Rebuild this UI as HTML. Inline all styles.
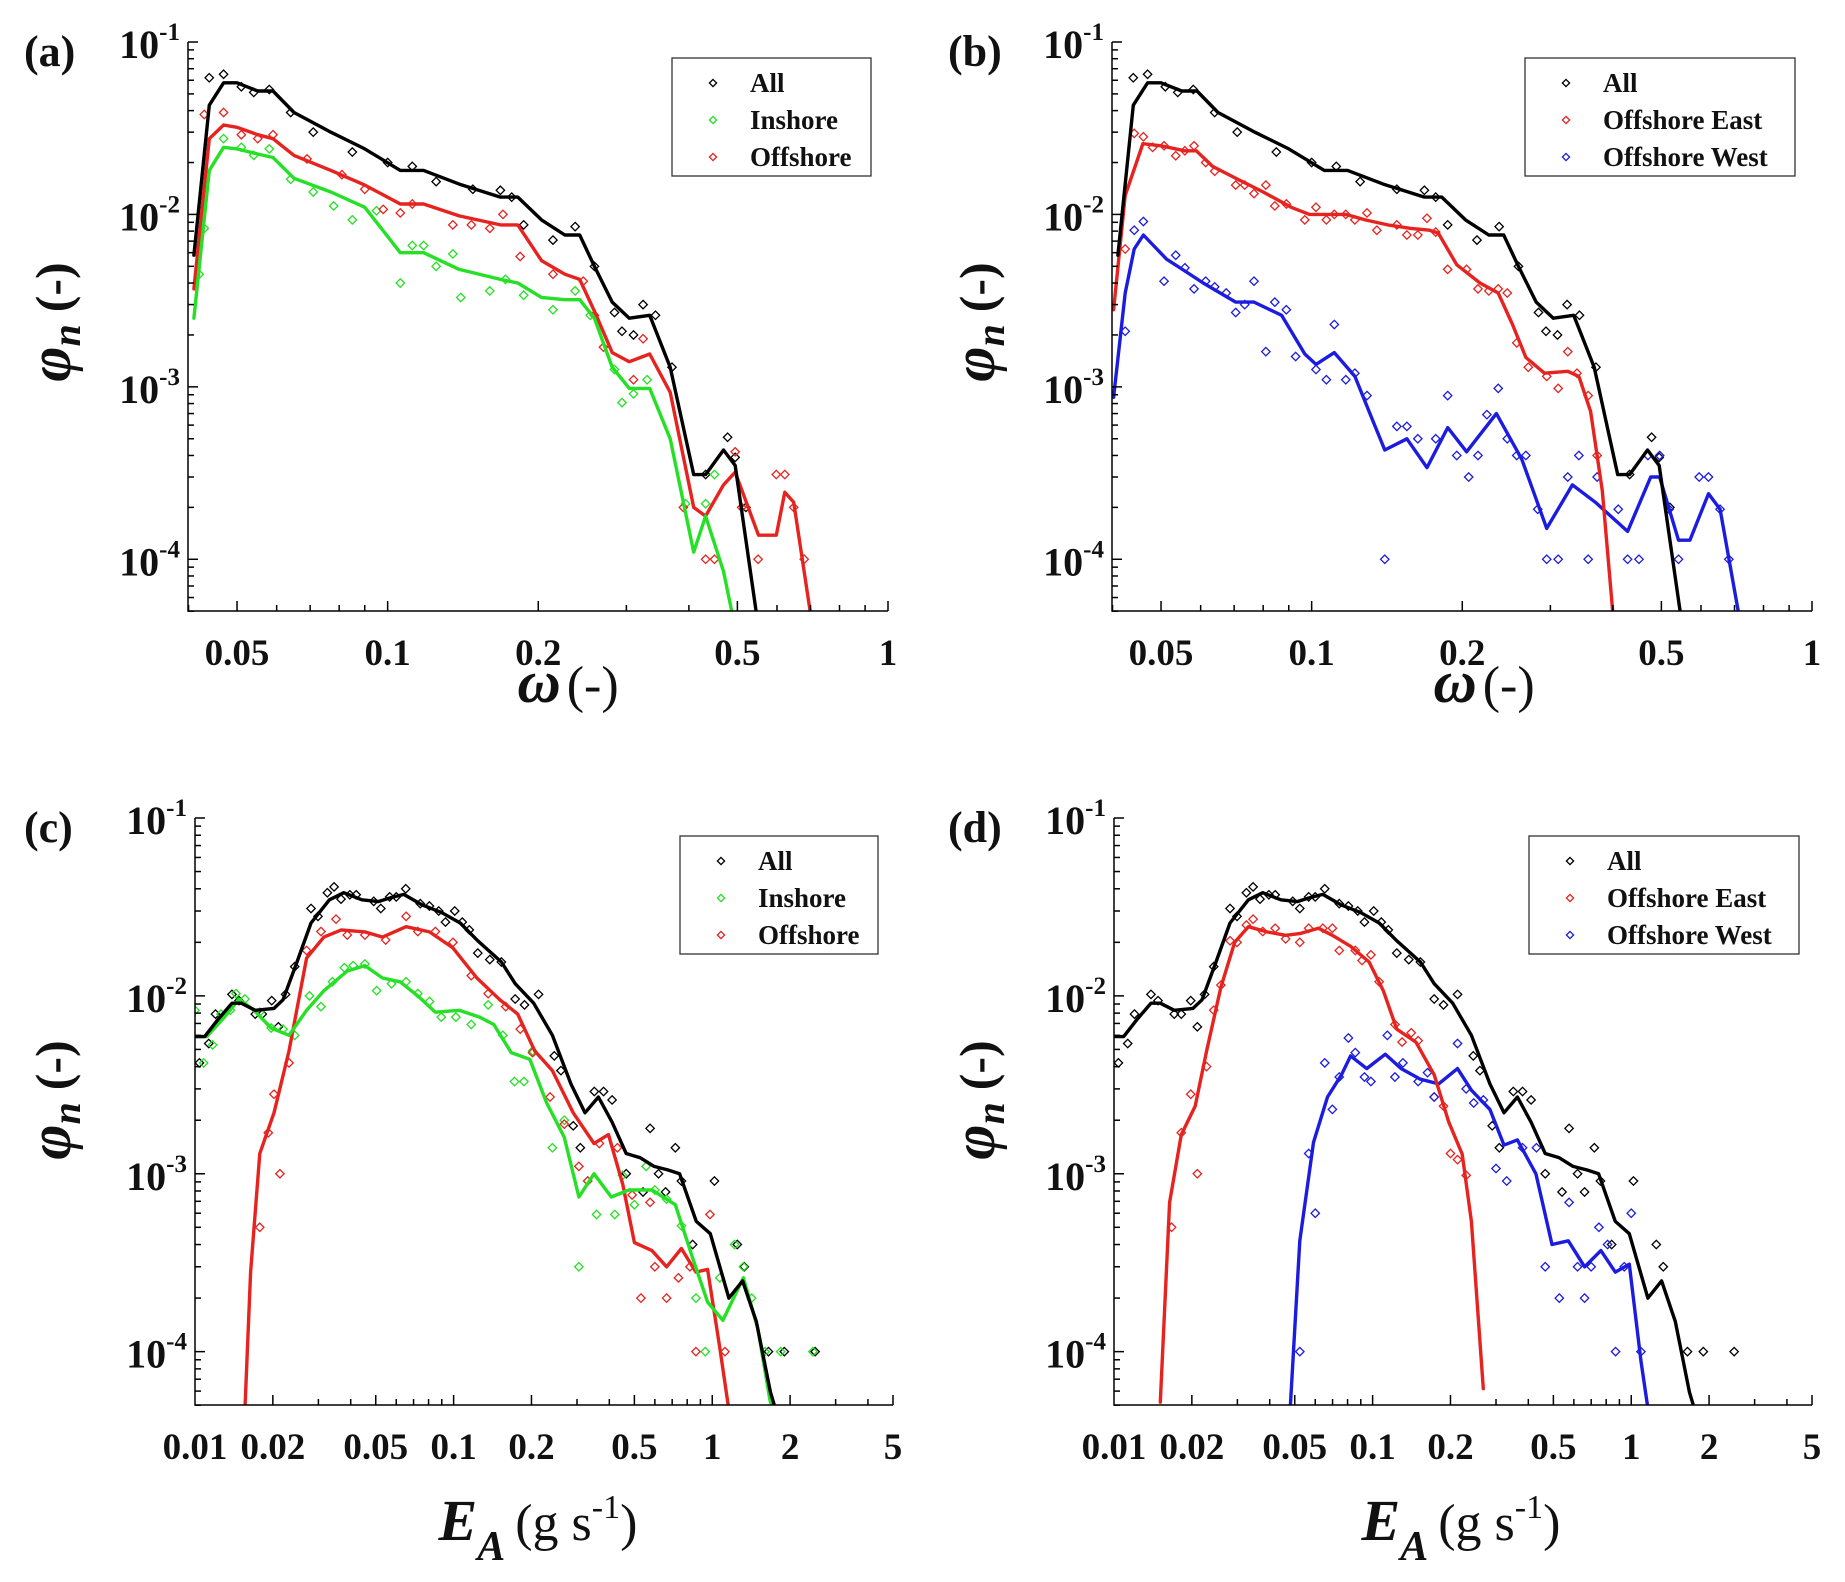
<!DOCTYPE html>
<html><head><meta charset="utf-8">
<style>
html,body{margin:0;padding:0;background:#fff;}
svg{display:block;font-family:"Liberation Serif",serif;}
</style></head>
<body>
<svg id="fig" width="1845" height="1582" viewBox="0 0 1845 1582" xmlns="http://www.w3.org/2000/svg">
<rect x="0" y="0" width="1845" height="1582" fill="#fff"/>
</svg>
<script>
// ---------- DATA: "All" (shared by all panels of the same x-variable) ----------
const omegaAllX = [0.041,0.044,0.047,0.05,0.055,0.059,0.065,0.077,0.09,0.106,0.118,0.139,0.168,0.182,0.203,0.226,0.242,0.259,0.281,0.304,0.334,0.367,0.409,0.432,0.469,0.495,0.551];
const omegaAllY = [0.0058,0.043,0.058,0.058,0.052,0.052,0.039,0.030,0.024,0.018,0.018,0.015,0.0126,0.0126,0.0093,0.0076,0.0076,0.0050,0.0031,0.0025,0.0026,0.0013,0.00031,0.00031,0.00043,0.00035,0.00004];
const omegaAllPtsX = [0.044,0.047,0.051,0.054,0.058,0.064,0.071,0.085,0.1,0.112,0.125,0.148,0.168,0.177,0.187,0.214,0.237,0.259,0.284,0.294,0.31,0.324,0.343,0.37,0.432,0.478,0.495,0.52];
const omegaAllPtsY = [0.062,0.065,0.055,0.051,0.053,0.039,0.030,0.023,0.020,0.019,0.0155,0.014,0.0138,0.0126,0.0087,0.0071,0.0085,0.005,0.0027,0.0021,0.002,0.003,0.0026,0.0013,0.00031,0.00051,0.00039,0.0002];
// panel (a)
const inshoreAX = [0.041,0.044,0.047,0.05,0.055,0.059,0.065,0.077,0.09,0.106,0.118,0.139,0.168,0.182,0.203,0.226,0.242,0.259,0.281,0.304,0.334,0.367,0.409,0.432,0.469,0.495];
const inshoreAY = [0.0025,0.018,0.0245,0.024,0.0224,0.0214,0.0162,0.0135,0.011,0.006,0.006,0.0048,0.0042,0.004,0.0033,0.0032,0.0032,0.0025,0.0013,0.00098,0.00098,0.0005,0.00011,0.000178,0.000085,0.00004];
const inshoreAPtsX = [0.042,0.043,0.047,0.051,0.054,0.058,0.064,0.071,0.078,0.085,0.095,0.106,0.112,0.118,0.125,0.135,0.14,0.16,0.172,0.187,0.214,0.237,0.254,0.284,0.294,0.31,0.33,0.394,0.432,0.45];
const inshoreAPtsY = [0.0045,0.0083,0.0275,0.0245,0.022,0.024,0.016,0.0135,0.0112,0.0093,0.0105,0.004,0.0066,0.0066,0.005,0.0059,0.0033,0.0036,0.0042,0.0034,0.0028,0.0036,0.0026,0.00126,0.00081,0.00091,0.0011,0.00021,0.00021,0.00031];
const offshoreAX = [0.041,0.044,0.047,0.05,0.055,0.059,0.065,0.077,0.09,0.106,0.118,0.139,0.168,0.182,0.203,0.226,0.242,0.259,0.281,0.304,0.334,0.367,0.409,0.432,0.469,0.495,0.551,0.598,0.622,0.648,0.703];
const offshoreAY = [0.0037,0.0275,0.033,0.032,0.029,0.0275,0.022,0.018,0.0148,0.0115,0.0115,0.0098,0.0087,0.0087,0.0054,0.0045,0.0042,0.00275,0.00158,0.0014,0.00155,0.00093,0.0002,0.000178,0.00027,0.00032,0.000138,0.000138,0.000245,0.000214,0.0000447];
const offshoreAPtsX = [0.043,0.047,0.051,0.055,0.059,0.069,0.081,0.09,0.098,0.106,0.112,0.135,0.147,0.16,0.17,0.184,0.214,0.246,0.259,0.27,0.31,0.324,0.39,0.432,0.45,0.495,0.51,0.55,0.598,0.622,0.648,0.68];
const offshoreAPtsY = [0.038,0.039,0.029,0.0275,0.029,0.021,0.017,0.014,0.0107,0.0102,0.0115,0.0087,0.0087,0.0083,0.010,0.0057,0.0045,0.0041,0.0026,0.0017,0.0011,0.0019,0.0002,0.0001,0.0001,0.00042,0.0002,0.0001,0.00031,0.00031,0.0002,0.0001];
// panel (b)
const eastBX = [0.0402,0.0424,0.046,0.05,0.0558,0.0588,0.0634,0.0705,0.080,0.091,0.099,0.117,0.128,0.142,0.158,0.172,0.179,0.195,0.217,0.236,0.252,0.268,0.292,0.325,0.342,0.361,0.381,0.401];
const eastBY = [0.0028,0.0129,0.0257,0.025,0.0234,0.0234,0.019,0.0162,0.0135,0.011,0.010,0.010,0.0093,0.0087,0.0083,0.0081,0.0078,0.0051,0.004,0.0035,0.0023,0.00148,0.0012,0.00123,0.00115,0.00072,0.00025,0.0000447];
const eastBPtsX = [0.0424,0.0442,0.0461,0.0481,0.0507,0.0535,0.0558,0.0582,0.0614,0.064,0.0705,0.0735,0.0767,0.081,0.0844,0.089,0.0969,0.102,0.107,0.111,0.117,0.122,0.129,0.135,0.148,0.155,0.163,0.170,0.177,0.187,0.204,0.215,0.226,0.236,0.246,0.257,0.271,0.295,0.311,0.325,0.339,0.357,0.372];
const eastBPtsY = [0.0063,0.0295,0.0282,0.0245,0.025,0.0219,0.0234,0.025,0.02,0.0178,0.0148,0.0148,0.0132,0.0148,0.0112,0.0115,0.0093,0.011,0.0093,0.01,0.01,0.0093,0.0102,0.0081,0.0087,0.0076,0.0076,0.0095,0.0079,0.0048,0.0048,0.0037,0.0036,0.0037,0.0035,0.0018,0.0013,0.00115,0.00098,0.0016,0.0012,0.00089,0.0004];
const westBX = [0.0402,0.0424,0.0442,0.0461,0.0513,0.0558,0.0607,0.0705,0.0767,0.0871,0.0969,0.102,0.111,0.122,0.133,0.140,0.155,0.170,0.187,0.204,0.234,0.263,0.295,0.332,0.369,0.428,0.476,0.496,0.541,0.570,0.621,0.655,0.713];
const westBY = [0.00087,0.0035,0.0063,0.0076,0.0055,0.0047,0.004,0.0031,0.0031,0.0026,0.00155,0.00135,0.00158,0.00115,0.00062,0.00043,0.0005,0.00034,0.00058,0.00042,0.0007,0.00038,0.000151,0.00027,0.000214,0.000145,0.0003,0.0003,0.000129,0.000129,0.00024,0.000195,0.000049];
const westBPtsX = [0.0424,0.0442,0.0461,0.0507,0.0535,0.0558,0.0582,0.0614,0.064,0.0675,0.0705,0.0735,0.0767,0.081,0.0844,0.089,0.0929,0.102,0.107,0.111,0.117,0.122,0.129,0.140,0.148,0.155,0.163,0.177,0.187,0.195,0.206,0.215,0.224,0.236,0.246,0.257,0.268,0.283,0.295,0.311,0.325,0.342,0.357,0.372,0.410,0.428,0.451,0.470,0.496,0.518,0.541,0.595,0.621,0.655,0.682];
const westBPtsY = [0.0021,0.0081,0.0091,0.0041,0.0058,0.0049,0.0037,0.0041,0.0038,0.0035,0.0027,0.0030,0.0041,0.0016,0.0031,0.0028,0.0015,0.00126,0.0011,0.0023,0.0011,0.0012,0.00089,0.0001,0.00059,0.00059,0.0005,0.0005,0.00089,0.0004,0.0003,0.0004,0.00069,0.00098,0.0005,0.0004,0.0004,0.000195,0.0001,0.0001,0.0003,0.0004,0.0001,0.0003,0.000195,0.0001,0.0001,0.0004,0.0004,0.000195,0.0001,0.0003,0.0003,0.000195,0.0001];
// E_A panels: "All"
const eaAllX = [0.01,0.0109,0.0123,0.0139,0.0151,0.0171,0.0202,0.0219,0.0248,0.0281,0.0331,0.0376,0.0442,0.0511,0.0566,0.0642,0.0758,0.0895,0.106,0.124,0.153,0.173,0.204,0.241,0.284,0.322,0.363,0.41,0.465,0.527,0.596,0.675,0.748,0.868,0.983,1.16,1.31,1.48,1.68,1.83];
const eaAllY = [0.0059,0.0059,0.0074,0.0091,0.0091,0.0083,0.0085,0.0095,0.0155,0.0257,0.0347,0.038,0.0347,0.0339,0.0355,0.0372,0.0324,0.0295,0.0257,0.0204,0.0155,0.0117,0.0091,0.006,0.0032,0.0022,0.0027,0.00195,0.0013,0.00123,0.0011,0.00105,0.001,0.00054,0.00046,0.0002,0.00025,0.000148,0.000059,0.000039];
const eaAllPtsX = [0.0104,0.0113,0.012,0.0139,0.0148,0.0171,0.0182,0.0198,0.021,0.0224,0.0243,0.0281,0.0299,0.0325,0.0345,0.0367,0.0397,0.042,0.0491,0.0523,0.0566,0.06,0.0653,0.0743,0.0806,0.0876,0.093,0.101,0.108,0.115,0.124,0.138,0.153,0.173,0.188,0.213,0.245,0.26,0.29,0.309,0.35,0.38,0.41,0.465,0.54,0.575,0.62,0.66,0.72,0.76,0.84,1.02,1.25,1.33,1.65,1.9,2.5];
const eaAllPtsY = [0.0042,0.0054,0.0079,0.0102,0.0094,0.0079,0.0079,0.0094,0.0067,0.0102,0.0146,0.031,0.028,0.038,0.041,0.035,0.037,0.037,0.034,0.031,0.036,0.036,0.04,0.033,0.032,0.030,0.026,0.030,0.026,0.0235,0.0174,0.016,0.0155,0.0096,0.0089,0.0102,0.0046,0.0038,0.00186,0.0014,0.0029,0.0029,0.0026,0.001,0.00079,0.0018,0.001,0.00079,0.0014,0.00091,0.0004,0.00091,0.0004,0.0003,0.0001,0.0001,0.0001];
// panel (c)
const inshoreCX = [0.01,0.0111,0.013,0.0148,0.0169,0.0197,0.0231,0.027,0.0315,0.0388,0.0454,0.0531,0.0621,0.0727,0.085,0.105,0.126,0.143,0.167,0.197,0.229,0.268,0.305,0.349,0.407,0.476,0.585,0.72,0.843,0.96,1.10,1.32,1.5,1.67,1.76];
const inshoreCY = [0.0059,0.0059,0.0076,0.0096,0.0083,0.0066,0.006,0.0083,0.0107,0.0138,0.0148,0.0126,0.012,0.01,0.0081,0.0083,0.0076,0.0069,0.0048,0.0044,0.0025,0.0016,0.00074,0.001,0.00074,0.00081,0.00081,0.00067,0.00033,0.00019,0.00015,0.00026,0.000135,0.000054,0.000041];
const inshoreCPtsX = [0.01,0.0108,0.0117,0.0126,0.0137,0.0144,0.0156,0.0178,0.0197,0.0219,0.0243,0.0277,0.0307,0.034,0.0378,0.0409,0.0454,0.0504,0.0575,0.0655,0.0727,0.0807,0.0896,0.102,0.117,0.136,0.155,0.172,0.187,0.202,0.241,0.268,0.305,0.33,0.357,0.42,0.45,0.5,0.555,0.6,0.666,0.76,0.865,0.94,1.07,1.22,1.32,1.42,1.6,1.84,2.45];
const inshoreCPtsY = [0.0083,0.0042,0.0053,0.0079,0.0083,0.0103,0.0096,0.0081,0.0066,0.0065,0.006,0.01,0.0087,0.012,0.0144,0.0148,0.0151,0.0107,0.0117,0.012,0.0103,0.0093,0.0076,0.0076,0.0069,0.0089,0.006,0.0033,0.0033,0.0049,0.0014,0.002,0.0003,0.00091,0.00059,0.00059,0.00098,0.00067,0.0011,0.00081,0.00072,0.00051,0.0002,0.0001,0.00026,0.0004,0.0003,0.0002,0.0001,0.0001,0.0001];
const offshoreCX = [0.0156,0.0164,0.0178,0.0202,0.0231,0.027,0.0315,0.0368,0.0454,0.0531,0.0655,0.0807,0.0994,0.123,0.151,0.177,0.206,0.241,0.29,0.349,0.397,0.451,0.50,0.585,0.666,0.76,0.865,0.96,1.07,1.16];
const offshoreCY = [0.000047,0.00028,0.0013,0.0022,0.0049,0.0163,0.0214,0.0235,0.0229,0.0214,0.0245,0.0229,0.0186,0.0126,0.0095,0.0079,0.0049,0.0038,0.0022,0.00148,0.00166,0.00087,0.00041,0.00037,0.0003,0.00038,0.00028,0.00029,0.000105,0.000047];
const offshoreCPtsX = [0.0178,0.0192,0.0202,0.0213,0.0231,0.027,0.0307,0.0351,0.0388,0.0454,0.0546,0.0655,0.0727,0.085,0.0994,0.117,0.136,0.159,0.181,0.202,0.236,0.268,0.305,0.33,0.366,0.43,0.49,0.53,0.575,0.6,0.666,0.74,0.82,0.865,0.98,1.12];
const offshoreCPtsY = [0.0005,0.0017,0.0028,0.001,0.0042,0.018,0.023,0.027,0.022,0.022,0.0206,0.028,0.023,0.023,0.02,0.013,0.0103,0.0087,0.0065,0.0048,0.0027,0.0019,0.0011,0.00091,0.00148,0.0014,0.00076,0.0002,0.00069,0.0003,0.0002,0.00026,0.0003,0.0001,0.00059,0.0001];
// panel (d)
const eastDX = [0.0151,0.0164,0.0182,0.0206,0.0228,0.0259,0.0293,0.0331,0.0391,0.0461,0.0523,0.0617,0.0699,0.0822,0.0969,0.11,0.124,0.147,0.173,0.197,0.222,0.241,0.268];
const eastDY = [0.000052,0.00069,0.00166,0.0024,0.0049,0.0112,0.02,0.0245,0.0229,0.0219,0.0224,0.024,0.0219,0.019,0.0155,0.0107,0.0065,0.0055,0.0036,0.00195,0.00129,0.00054,0.000062];
const eastDPtsX = [0.0167,0.0182,0.0198,0.021,0.0228,0.0243,0.0259,0.0281,0.0299,0.0325,0.0345,0.0376,0.042,0.0461,0.0523,0.0566,0.0642,0.0699,0.0743,0.0857,0.091,0.0985,0.106,0.122,0.13,0.141,0.15,0.173,0.188,0.2,0.213,0.23];
const eastDPtsY = [0.0005,0.0017,0.0028,0.001,0.004,0.0083,0.0115,0.0204,0.020,0.025,0.027,0.023,0.024,0.0209,0.020,0.024,0.024,0.024,0.018,0.018,0.0158,0.017,0.012,0.0069,0.0055,0.0062,0.0056,0.0027,0.0024,0.0013,0.0012,0.00098];
const westDX = [0.0481,0.0523,0.0591,0.0669,0.0758,0.0822,0.0949,0.112,0.129,0.153,0.18,0.213,0.241,0.284,0.322,0.363,0.428,0.494,0.571,0.66,0.763,0.868,0.983,1.09,1.16];
const westDY = [0.00005,0.00042,0.0015,0.0027,0.0036,0.0046,0.0039,0.0047,0.0039,0.0034,0.0032,0.0039,0.00295,0.0023,0.00145,0.00155,0.001,0.0004,0.00042,0.0003,0.00037,0.00028,0.00031,0.000089,0.000048];
const westDPtsX = [0.0523,0.0566,0.06,0.0653,0.0699,0.0743,0.0806,0.0857,0.093,0.0985,0.114,0.122,0.131,0.15,0.163,0.173,0.213,0.23,0.246,0.268,0.3,0.33,0.38,0.43,0.465,0.527,0.575,0.62,0.66,0.7,0.75,0.81,0.87,0.94,1.0,1.09];
const westDPtsY = [0.0001,0.0013,0.0006,0.0042,0.0023,0.0035,0.0058,0.0048,0.0035,0.0033,0.006,0.0035,0.0042,0.0033,0.0037,0.0027,0.0054,0.003,0.0025,0.0026,0.00107,0.00091,0.0014,0.0014,0.0003,0.0002,0.00069,0.0003,0.0002,0.0003,0.0005,0.0004,0.0001,0.0003,0.0006,0.0001];
// tick labels
const omegaTicks = [0.05,0.1,0.2,0.5,1];
const omegaTickLabels = ["0.05","0.1","0.2","0.5","1"];
const eaTicks = [0.01,0.02,0.05,0.1,0.2,0.5,1,2,5];
const eaTickLabels = ["0.01","0.02","0.05","0.1","0.2","0.5","1","2","5"];
const yDecades = [-1,-2,-3,-4];

const BLACK="#000000", RED="#e6231f", GREEN="#25e025", BLUE="#1c1ce0";
const NS="http://www.w3.org/2000/svg";
const svg=document.getElementById('fig');
function mk(tag,attrs,parent){const e=document.createElementNS(NS,tag);for(const k in attrs)e.setAttribute(k,attrs[k]);(parent||svg).appendChild(e);return e;}

function makePanel(id,P){
  const L=Math.log10;
  const sx=v=>P.left+(L(v)-L(P.xmin))/(L(P.xmax)-L(P.xmin))*(P.right-P.left);
  const sy=v=>P.top+(-1-L(v))/3.3*(P.bottom-P.top);
  const g=mk('g',{});
  
  
  const cp=mk('clipPath',{id:'clip-'+id},g);
  mk('rect',{x:P.left,y:P.top-5,width:P.right-P.left+6,height:P.bottom-P.top+5},cp);
  const plot=mk('g',{'clip-path':'url(#clip-'+id+')'},g);
  
  
  P.series.forEach(s=>{
    const sg=mk('g',{},plot);
    
    
    s.px.forEach((x,i)=>{
      const cx=sx(x),cy=sy(s.py[i]),r=4.2;
      const d=mk('path',{d:`M${cx} ${cy-r}L${cx+r} ${cy}L${cx} ${cy+r}L${cx-r} ${cy}Z`,fill:'none',stroke:s.color,'stroke-width':1.3},sg);
      
      
    });
  });
  P.series.slice().reverse().forEach(s=>{
    const pts=s.lx.map((x,i)=>sx(x).toFixed(1)+','+sy(s.ly[i]).toFixed(1)).join(' ');
    const pl=mk('polyline',{points:pts,fill:'none',stroke:s.color,'stroke-width':3.4,'stroke-linejoin':'round','stroke-linecap':'round'},plot);
    
    
  });
  const ax=mk('g',{stroke:'#000','stroke-width':1.5,fill:'none'},g);
  
  
  mk('path',{d:`M${P.left} ${P.top}V${P.bottom}H${P.right}`},ax);
  for(let dcd=-5;dcd<=-1;dcd++){
    for(let m=1;m<=9;m++){
      const v=m*Math.pow(10,dcd);const y=sy(v);
      if(y<P.top-0.5||y>P.bottom+0.5)continue;
      mk('line',{x1:P.left,x2:P.left+(m===1?10:6),y1:y,y2:y},ax);
    }
  }
  for(let dcd=-3;dcd<=1;dcd++){
    for(let m=1;m<=9;m++){
      const v=m*Math.pow(10,dcd);const x=sx(v);
      if(x<P.left+0.5||x>P.right+0.5)continue;
      const major=P.ticks.some(t=>Math.abs(t-v)<1e-9);
      mk('line',{x1:x,x2:x,y1:P.bottom,y2:P.bottom-(major?10:6)},ax);
    }
  }
  yDecades.forEach(dcd=>{
    const y=sy(Math.pow(10,dcd));
    const t=mk('text',{x:P.left-8,y:y+16,'text-anchor':'end','font-size':40,'font-weight':'bold',fill:'#111'},g);
    
    
    const a=mk('tspan',{},t);a.textContent='10';
    const b=mk('tspan',{'font-size':25,dy:-18},t);b.textContent='-'+(-dcd);
  });
  P.ticks.forEach((v,i)=>{
    const t=mk('text',{x:sx(v),y:P.bottom+54,'text-anchor':'middle','font-size':37,'font-weight':'bold',fill:'#111'},g);
    
    
    t.textContent=P.tickLabels[i];
  });
  const lg=mk('g',{},g);
  
  
  mk('rect',{x:P.leg[0],y:P.leg[1],width:P.leg[2],height:118,fill:'#fff',stroke:'#333','stroke-width':1.3},lg);
  P.series.forEach((s,i)=>{
    const cy=P.leg[1]+25+i*37,cx=P.leg[0]+41,r=3.6;
    const e=mk('g',{},lg);
    
    
    mk('path',{d:`M${cx} ${cy-r}L${cx+r} ${cy}L${cx} ${cy+r}L${cx-r} ${cy}Z`,fill:'none',stroke:s.color,'stroke-width':1.3},e);
    const t=mk('text',{x:P.leg[0]+78,y:cy+9,'font-size':27,'font-weight':'bold',fill:'#111'},e);
    t.textContent=s.label;
  });
  const pl=mk('text',{x:P.letter[0],y:P.letter[1],'font-size':44,'font-weight':'bold',fill:'#111'},g);
  
  
  pl.textContent=P.letterText;
  const yl=mk('text',{transform:`translate(${P.ylab[0]},${P.ylab[1]}) rotate(-90)`,'text-anchor':'middle','font-size':50,'font-weight':'bold',fill:'#111'},g);
  
  
  const y1=mk('tspan',{'font-style':'italic','font-size':60},yl);y1.textContent='φ';
  const y2=mk('tspan',{'font-style':'italic','font-size':40,dy:10},yl);y2.textContent='n';
  const y3=mk('tspan',{dy:-10,dx:12},yl);y3.textContent='(-)';
  const xl=mk('text',{x:P.xlab[0],y:P.xlab[1],'text-anchor':'middle','font-size':52,'font-weight':'bold',fill:'#111'},g);
  
  
  if(P.xlabType==='omega'){
    const a=mk('tspan',{'font-style':'italic','font-size':60},xl);a.textContent='ω';
    const b=mk('tspan',{'font-weight':'normal',dx:6},xl);b.textContent='(-)';
  } else {
    const a=mk('tspan',{'font-style':'italic','font-size':58},xl);a.textContent='E';
    const b=mk('tspan',{'font-style':'italic','font-size':42,dy:20},xl);b.textContent='A';
    const c=mk('tspan',{'font-weight':'normal',dy:-20,dx:10},xl);c.textContent='(g s';
    const d=mk('tspan',{'font-weight':'normal','font-size':34,dy:-22},xl);d.textContent='-1';
    const e=mk('tspan',{'font-weight':'normal',dy:22},xl);e.textContent=')';
  }
}

const allOmega={name:'all',label:'All',color:BLACK,lx:omegaAllX,ly:omegaAllY,px:omegaAllPtsX,py:omegaAllPtsY};
const allEA={name:'all',label:'All',color:BLACK,lx:eaAllX,ly:eaAllY,px:eaAllPtsX,py:eaAllPtsY};

makePanel('panel-a',{left:188,right:888,top:42,bottom:611,xmin:0.0399,xmax:1,ticks:omegaTicks,tickLabels:omegaTickLabels,
  leg:[672,58,199],letter:[24,66],letterText:'(a)',ylab:[70,322],xlab:[568,702],xlabType:'omega',
  series:[allOmega,
    {name:'inshore',label:'Inshore',color:GREEN,lx:inshoreAX,ly:inshoreAY,px:inshoreAPtsX,py:inshoreAPtsY},
    {name:'offshore',label:'Offshore',color:RED,lx:offshoreAX,ly:offshoreAY,px:offshoreAPtsX,py:offshoreAPtsY}]});
makePanel('panel-b',{left:1112,right:1812,top:42,bottom:611,xmin:0.0399,xmax:1,ticks:omegaTicks,tickLabels:omegaTickLabels,
  leg:[1525,58,270],letter:[948,66],letterText:'(b)',ylab:[994,322],xlab:[1484,702],xlabType:'omega',
  series:[allOmega,
    {name:'offshore-east',label:'Offshore East',color:RED,lx:eastBX,ly:eastBY,px:eastBPtsX,py:eastBPtsY},
    {name:'offshore-west',label:'Offshore West',color:BLUE,lx:westBX,ly:westBY,px:westBPtsX,py:westBPtsY}]});
makePanel('panel-c',{left:195,right:893,top:818,bottom:1405,xmin:0.01,xmax:5,ticks:eaTicks,tickLabels:eaTickLabels,
  leg:[680,836,198],letter:[24,842],letterText:'(c)',ylab:[70,1100],xlab:[538,1540],xlabType:'ea',
  series:[allEA,
    {name:'inshore',label:'Inshore',color:GREEN,lx:inshoreCX,ly:inshoreCY,px:inshoreCPtsX,py:inshoreCPtsY},
    {name:'offshore',label:'Offshore',color:RED,lx:offshoreCX,ly:offshoreCY,px:offshoreCPtsX,py:offshoreCPtsY}]});
makePanel('panel-d',{left:1114,right:1812,top:818,bottom:1405,xmin:0.01,xmax:5,ticks:eaTicks,tickLabels:eaTickLabels,
  leg:[1529,836,270],letter:[948,842],letterText:'(d)',ylab:[994,1100],xlab:[1461,1540],xlabType:'ea',
  series:[allEA,
    {name:'offshore-east',label:'Offshore East',color:RED,lx:eastDX,ly:eastDY,px:eastDPtsX,py:eastDPtsY},
    {name:'offshore-west',label:'Offshore West',color:BLUE,lx:westDX,ly:westDY,px:westDPtsX,py:westDPtsY}]});
</script>
</body></html>
